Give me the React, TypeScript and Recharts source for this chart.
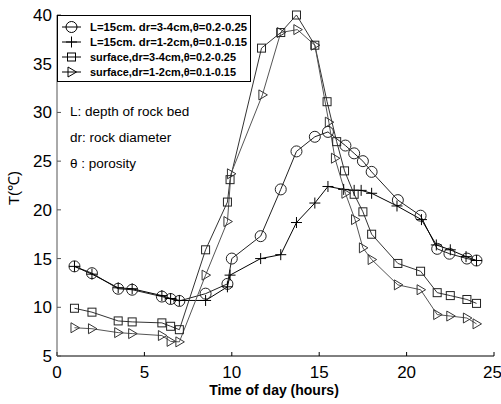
import React from "react";
import { LineChart, Line, XAxis, YAxis } from "recharts";

// hours / temperatures
const circleHours = [1, 2, 3.5, 4.3, 6, 6.5, 7, 8.5, 9.75, 10, 11.65, 12.8, 13.7, 14.75, 15.5, 16.5, 17, 17.5, 18, 19.5, 20.8, 21.75, 22.45, 23.45, 24];
const circleTemps = [14.2, 13.5, 11.9, 11.8, 11.1, 10.85, 10.65, 11.4, 12.4, 15.0, 17.3, 22.1, 26.0, 27.5, 28.0, 26.6, 25.8, 25.0, 23.9, 21.0, 19.4, 16.0, 15.5, 15.0, 14.8];

const plusHours = [1, 2, 3.5, 4.3, 6, 6.5, 7, 8.5, 9.75, 9.9, 11.65, 12.8, 13.7, 14.75, 15.5, 16.4, 17, 17.4, 18, 19.45, 20.85, 21.7, 22.5, 23.4, 24];
const plusTemps = [14.2, 13.4, 12.0, 11.9, 11.2, 10.9, 10.7, 10.7, 12.1, 13.3, 15.0, 15.4, 18.7, 20.7, 22.4, 22.1, 22.0, 22.0, 21.7, 20.4, 19.0, 16.4, 15.9, 15.2, 14.8];

const squareHours = [1, 2, 3.5, 4.3, 6, 6.5, 7, 8.5, 9.75, 9.9, 11.7, 12.8, 13.7, 14.75, 15.45, 16, 16.45, 17, 17.5, 18, 19.5, 20.8, 21.75, 22.5, 23.45, 24];
const squareTemps = [9.9, 9.5, 8.6, 8.5, 8.4, 8.05, 7.7, 15.9, 20.8, 23.1, 36.6, 38.2, 40, 36.9, 31.1, 27.0, 24.0, 21.6, 19.8, 17.5, 14.5, 13.7, 11.5, 11.2, 10.8, 10.4];

const triHours = [1, 2, 3.5, 4.3, 6, 6.5, 7, 8.5, 9.75, 9.95, 11.75, 12.8, 13.75, 14.75, 15.55, 15.9, 16.5, 17.05, 17.5, 18, 19.5, 20.8, 21.75, 22.5, 23.45, 24];
const triTemps = [7.9, 7.8, 7.4, 7.3, 7.1, 6.5, 6.45, 13.3, 18.8, 23.7, 31.8, 38.2, 38.5, 36.9, 29.0, 25.3, 21.7, 19.0, 16.1, 14.9, 12.3, 11.8, 9.25, 9.1, 8.9, 8.3];

const xTicks = [0, 5, 10, 15, 20, 25];
const yTicks = [5, 10, 15, 20, 25, 30, 35, 40];

const legendLabels = [
  "L=15cm. dr=3-4cm,θ=0.2-0.25",
  "L=15cm. dr=1-2cm,θ=0.1-0.15",
  "surface,dr=3-4cm,θ=0.2-0.25",
  "surface,dr=1-2cm,θ=0.1-0.15",
];
const notes = ["L: depth of rock bed", "dr: rock diameter", "θ : porosity"];

const zip = (hs: number[], ts: number[]) => hs.map((h, i) => ({ h, t: ts[i] }));

type Kind = "circle" | "plus" | "square" | "tri";

function Marker({ kind, cx, cy, color }: { kind: Kind; cx: number; cy: number; color: string }) {
  if (kind === "circle") return <circle cx={cx} cy={cy} r={5.5} fill="none" stroke={color} />;
  if (kind === "square") return <rect x={cx - 4} y={cy - 4} width={8} height={8} fill="none" stroke={color} />;
  if (kind === "plus")
    return <path d={`M${cx - 5.5},${cy}H${cx + 5.5}M${cx},${cy - 5.5}V${cy + 5.5}`} stroke={color} fill="none" />;
  return <path d={`M${cx - 3.5},${cy - 5}L${cx + 5},${cy}L${cx - 3.5},${cy + 5}Z`} fill="none" stroke={color} />;
}

const dotFor = (kind: Kind, color: string) => (p: any) => (
  <g key={`${kind}-${p.index}`}>
    {p.cx != null && p.cy != null ? <Marker kind={kind} cx={p.cx} cy={p.cy} color={color} /> : null}
  </g>
);

const series: { kind: Kind; data: { h: number; t: number }[]; line: string; mark: string }[] = [
  { kind: "circle", data: zip(circleHours, circleTemps), line: "#222", mark: "#222" },
  { kind: "plus", data: zip(plusHours, plusTemps), line: "#000", mark: "#000" },
  { kind: "square", data: zip(squareHours, squareTemps), line: "#333", mark: "#222" },
  { kind: "tri", data: zip(triHours, triTemps), line: "#555", mark: "#333" },
];

const tickFont = { fontFamily: "'Liberation Sans', Arial, sans-serif", fontSize: 17, fill: "#000" };

export default function App() {
  return (
    <div style={{ position: "absolute", left: 0, top: 0, width: 501, height: 404, background: "#fff" }}>
      <LineChart width={501} height={404} margin={{ top: 15, right: 7, left: 0, bottom: 0 }}>
        <XAxis
          xAxisId="b"
          dataKey="h"
          type="number"
          domain={[0, 25]}
          ticks={xTicks}
          height={48}
          tickSize={-4}
          tickMargin={14}
          tick={tickFont}
          stroke="#000"
          allowDuplicatedCategory={false}
        />
        <XAxis xAxisId="t" orientation="top" type="number" domain={[0, 25]} ticks={xTicks} height={0} tickSize={-4} tick={false} stroke="#000" />
        <YAxis
          yAxisId="l"
          type="number"
          domain={[5, 40]}
          ticks={yTicks}
          width={57}
          tickSize={-4}
          tickMargin={9}
          tick={tickFont}
          stroke="#555"
        />
        <YAxis yAxisId="r" orientation="right" type="number" domain={[5, 40]} ticks={yTicks} width={0} tickSize={-4} tick={false} stroke="#000" />
        {series.map((s) => (
          <Line
            key={s.kind}
            xAxisId="b"
            yAxisId="l"
            data={s.data}
            dataKey="t"
            type="linear"
            stroke={s.line}
            strokeWidth={1}
            dot={dotFor(s.kind, s.mark)}
            activeDot={false}
            isAnimationActive={false}
          />
        ))}
      </LineChart>
      <svg width={501} height={404} style={{ position: "absolute", left: 0, top: 0, pointerEvents: "none" }}>
        <rect x={57.5} y={15.5} width={193} height={66} fill="#fff" stroke="#000" />
        {legendLabels.map((lab, i) => {
          const y = 27 + i * 15;
          const kinds: Kind[] = ["circle", "plus", "square", "tri"];
          return (
            <g key={lab}>
              <line x1={62} x2={81} y1={y} y2={y} stroke="#000" />
              <Marker kind={kinds[i]} cx={71.5} cy={y} color="#000" />
              <text
                x={90}
                y={y + 4}
                fontFamily="'Liberation Sans Narrow', 'Liberation Sans', Arial, sans-serif"
                fontWeight="bold"
                fontSize={11.5}
                textLength={lab.startsWith("L") ? 157 : 146}
                lengthAdjust="spacingAndGlyphs"
              >
                {lab}
              </text>
            </g>
          );
        })}
        {notes.map((n, i) => (
          <text key={n} x={70} y={116 + i * 26} fontFamily="'Liberation Sans', Arial, sans-serif" fontSize={13.5} fill="#000">
            {n}
          </text>
        ))}
        <text
          transform="translate(19,188) rotate(-90)"
          textAnchor="middle"
          fontFamily="'Liberation Sans', Arial, sans-serif"
          fontSize={15}
        >
          T(℃)
        </text>
        <text x={274} y={395} textAnchor="middle" fontFamily="'Liberation Sans', Arial, sans-serif" fontWeight="bold" fontSize={14}>
          Time of day (hours)
        </text>
      </svg>
    </div>
  );
}
